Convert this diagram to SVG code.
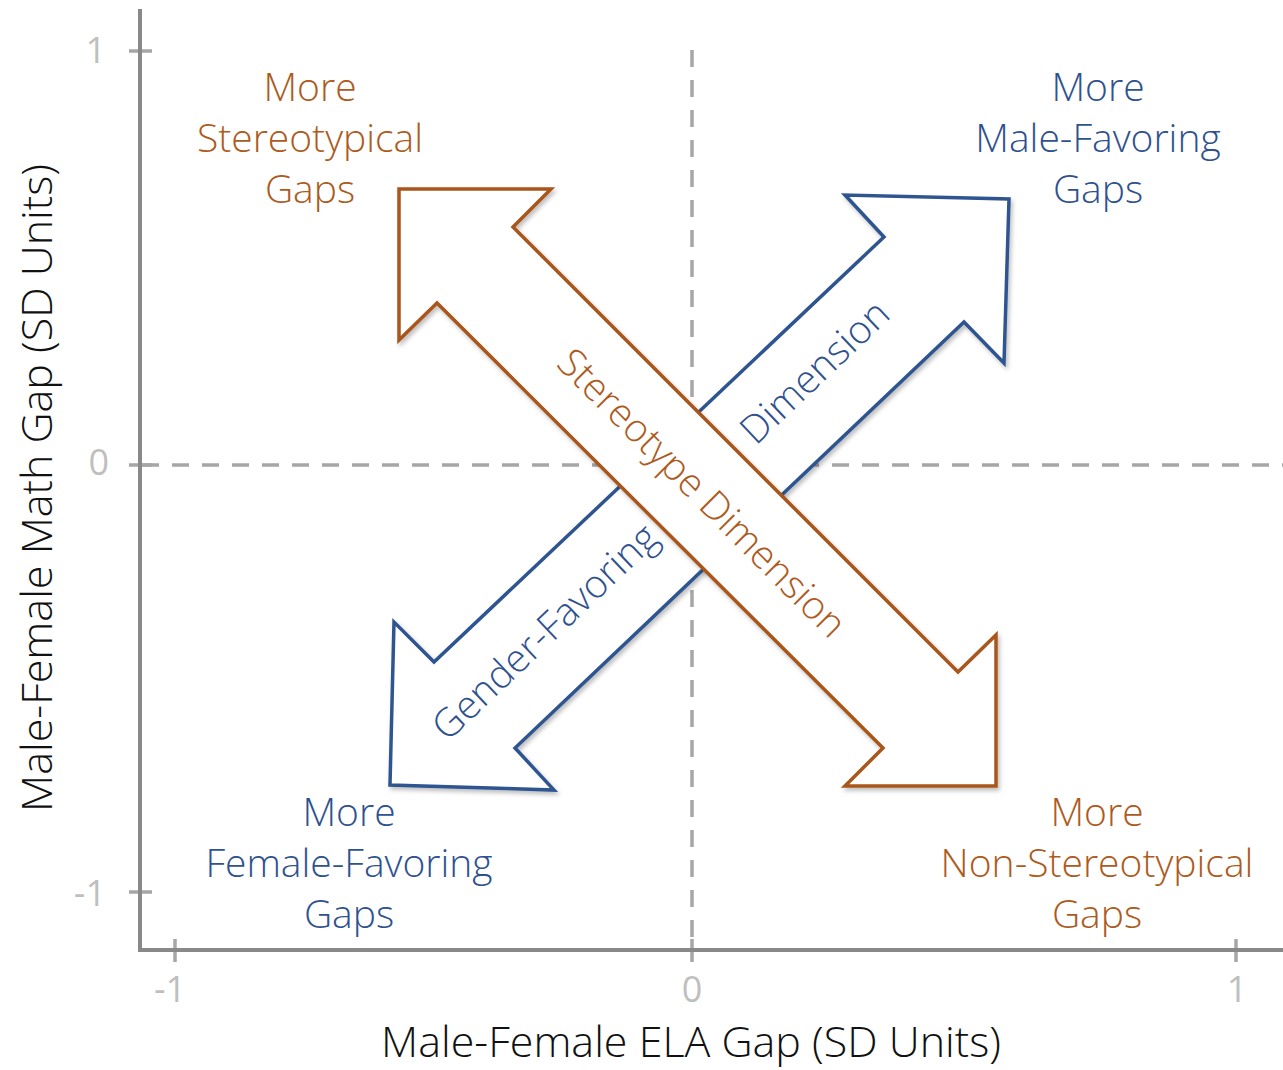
<svg xmlns="http://www.w3.org/2000/svg" width="1283" height="1070" viewBox="0 0 1283 1070">
<style>
text{font-family:"Open Sans","Liberation Sans",sans-serif;font-weight:300}
.lbl{font-size:39px}
.org{fill:#AD5B1D}
.blu{fill:#2F528F}
.tick{font-size:36px;fill:#BFBFBF;font-weight:400}
.title{font-size:43px;fill:#111}
.axis{stroke:#898989;stroke-width:4;fill:none}
.tk{stroke:#A6A6A6;stroke-width:3.5}
.dash{stroke:#A6A6A6;stroke-width:3.5;stroke-dasharray:17 13;fill:none}
.arrow{fill:#fff;stroke-width:3.5;stroke-linejoin:miter;filter:url(#sh)}
</style>
<defs>
<filter id="sh" x="-10%" y="-10%" width="120%" height="120%">
<feDropShadow dx="2" dy="3" stdDeviation="2" flood-color="#000" flood-opacity="0.25"/>
</filter>
</defs>
<rect width="1283" height="1070" fill="#fff"/>
<g id="gridlines">
<line class="dash" x1="142" y1="465" x2="1283" y2="465"/>
<line class="dash" x1="692" y1="50" x2="692" y2="948"/>
</g>
<g id="axes">
<line class="tk" x1="129" y1="51" x2="152" y2="51"/>
<line class="tk" x1="129" y1="465" x2="152" y2="465"/>
<line class="tk" x1="129" y1="892" x2="152" y2="892"/>
<line class="tk" x1="175" y1="939" x2="175" y2="962"/>
<line class="tk" x1="692" y1="939" x2="692" y2="962"/>
<line class="tk" x1="1236" y1="939" x2="1236" y2="962"/>
<polyline class="axis" points="140,9 140,950 1283,950"/>
<text class="tick" x="106" y="63" text-anchor="end">1</text>
<text class="tick" x="109" y="475" text-anchor="end">0</text>
<text class="tick" x="106" y="906" text-anchor="end">-1</text>
<text class="tick" x="170" y="1002" text-anchor="middle">-1</text>
<text class="tick" x="692" y="1002" text-anchor="middle">0</text>
<text class="tick" x="1237" y="1002" text-anchor="middle">1</text>
<text class="title" x="691" y="1057" text-anchor="middle">Male-Female ELA Gap (SD Units)</text>
<text class="title" transform="translate(52,488) rotate(-90)" text-anchor="middle">Male-Female Math Gap (SD Units)</text>
</g>
<g id="arrow-gender">
<polygon class="arrow" stroke="#2E5590" points="390,785 394,622 434,662 884,237 845,195 1009,199 1004,363 964,322 515,748 554,790"/>
<text class="lbl blu" transform="translate(545,632) rotate(-43.5)" y="13" text-anchor="middle">Gender-Favoring</text>
<text class="lbl blu" transform="translate(815,372) rotate(-43.5)" y="13" text-anchor="middle">Dimension</text>
</g>
<g id="arrow-stereotype">
<polygon class="arrow" stroke="#A8571B" points="399,189 551,189 513,227 958,672 996,635 996,786 845,786 883,748 437,303 399,340"/>
<text class="lbl org" transform="translate(701,494) rotate(45)" y="12" text-anchor="middle">Stereotype Dimension</text>
</g>
<g id="label-stereotypical" class="lbl org" text-anchor="middle">
<text x="310" y="101">More</text>
<text x="310" y="152">Stereotypical</text>
<text x="310" y="203">Gaps</text>
</g>
<g id="label-male" class="lbl blu" text-anchor="middle">
<text x="1098" y="101">More</text>
<text x="1098" y="152">Male-Favoring</text>
<text x="1098" y="203">Gaps</text>
</g>
<g id="label-female" class="lbl blu" text-anchor="middle">
<text x="349" y="826">More</text>
<text x="349" y="877">Female-Favoring</text>
<text x="349" y="928">Gaps</text>
</g>
<g id="label-nonstereotypical" class="lbl org" text-anchor="middle">
<text x="1097" y="826">More</text>
<text x="1097" y="877">Non-Stereotypical</text>
<text x="1097" y="928">Gaps</text>
</g>
</svg>
